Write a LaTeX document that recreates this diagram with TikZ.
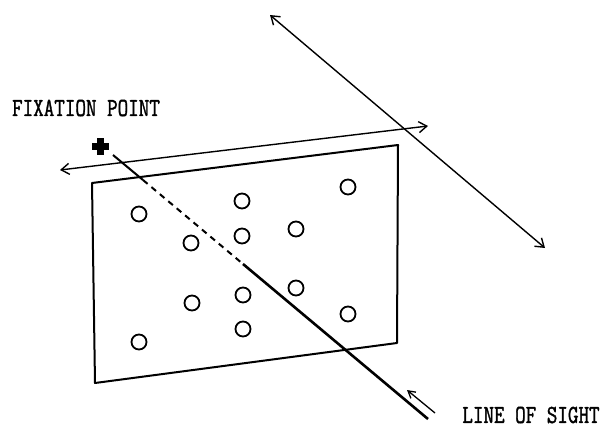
\documentclass[tikz,border=0pt]{standalone}
\usepackage{fontspec}
\newfontfamily\lbfont[FakeBold=1.6]{Latin Modern Mono}
\usetikzlibrary{arrows.meta}
\begin{document}
\begin{tikzpicture}[x=1pt,y=-1pt,
  plane/.style={line width=2pt,line join=round},
  dot/.style={circle,draw,line width=1.8pt,minimum size=15pt,inner sep=0pt},
  dbl/.style={line width=1.4pt,{Straight Barb[length=8pt,width=11pt,line width=1.4pt]}-{Straight Barb[length=8pt,width=11pt,line width=1.4pt]}},
  lbl/.style={font=\lbfont\fontsize{20.5}{21}\selectfont,inner sep=0pt}]
\useasboundingbox (0,0) rectangle (610,428);
% plane
\coordinate (tl) at (92,183);
\coordinate (tr) at (398,145);
\coordinate (br) at (397,343);
\coordinate (bl) at (95,383);
\draw[plane] (tl) -- (tr) -- (br) -- (bl) -- cycle;
% dots
\foreach \n/\x/\y in {a/139/214,b/242/201,c/348/187,d/191/243,e/242/236,f/296/229,g/192/303,h/243/295,i/296/288,j/348/314,k/243/329,l/139/342}
  \node[dot] (\n) at (\x,\y) {};
% double arrows
\coordinate (hl) at (60,170);
\coordinate (hr) at (428,126);
\draw[dbl] (hl) -- (hr);
\coordinate (dt) at (270,15);
\coordinate (db) at (545,248);
\draw[dbl] (dt) -- (db);
% fixation point
\node[inner sep=0pt] (fp) at (100,146) {};
\fill ([shift={(-3.5,-8.5)}]fp.center) rectangle ([shift={(3.5,8.5)}]fp.center);
\fill ([shift={(-8.5,-3.5)}]fp.center) rectangle ([shift={(8.5,3.5)}]fp.center);
% line of sight
\coordinate (s0) at (113,155);
\coordinate (s1) at (143,180);
\coordinate (s2) at (243,264);
\coordinate (s3) at (428,419);
\draw[line width=2pt] (s0) -- (s1);
\draw[line width=2pt,dash pattern=on 6pt off 5pt] (s1) -- (s2);
\draw[line width=2.6pt] (s2) -- (s3);
% small arrow
\coordinate (a0) at (435,413);
\coordinate (a1) at (407,390);
\draw[line width=1.3pt,-{Straight Barb[length=7pt,width=8pt,line width=1.3pt]}] (a0) -- (a1);
% labels
\node[lbl] (fixlbl) at (86,108) {\scalebox{1}[1.27]{FIXATION POINT}};
\node[lbl] (loslbl) at (531,415) {\scalebox{1}[1.27]{LINE OF SIGHT}};
\end{tikzpicture}
\end{document}
